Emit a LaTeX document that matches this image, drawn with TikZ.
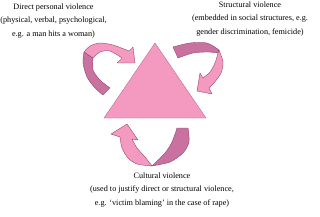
\documentclass[tikz,border=0pt]{standalone}
\usepackage{fontspec}
\setmainfont{Liberation Serif}
\definecolor{lightpink}{HTML}{F49AC1}
\definecolor{darkpink}{HTML}{C9729F}
\definecolor{edgecol}{HTML}{8E3B67}
\definecolor{tricol}{HTML}{C06090}
\begin{document}
\begin{tikzpicture}[x=1pt,y=-1pt,
  lbl/.style={align=center,font=\fontsize{8.2}{13.5}\selectfont,inner sep=0pt},
  lightpart/.style={fill=lightpink,draw=edgecol,line width=0.35pt,line join=round},
  darkpart/.style={fill=darkpink,draw=edgecol,line width=0.35pt,line join=round},
  tri/.style={fill=lightpink,draw=tricol,line width=0.35pt}]
\useasboundingbox (0,0) rectangle (320,216);
% triangle
\coordinate (apex) at (155,43);
\coordinate (bl) at (104,118);
\coordinate (br) at (206,118);
\path[tri] (apex) -- (br) -- (bl) -- cycle;
% left arrow
\path[darkpart] plot[smooth] coordinates {(84,52) (83,63) (87,77) (95,88) (103,95)}
  -- plot[smooth] coordinates {(110,88) (100,80) (93,70) (93,58)} -- cycle;
\path[lightpart] plot[smooth] coordinates {(84,52) (90,46) (100,43) (113,45) (129,51)}
  -- (133,47) -- (135,63) -- (117,63) -- (122,58)
  -- plot[smooth] coordinates {(122,58) (110,51) (100,52) (93,58)} -- cycle;
% right arrow
\path[darkpart] plot[smooth] coordinates {(173,47) (190,43) (207,43) (219,50)}
  -- plot[smooth] coordinates {(218,53) (208,52) (193,53) (178,58)} -- cycle;
\path[lightpart] plot[smooth] coordinates {(219,50) (223,62) (221,73) (214,83) (209,88)}
  -- (212,94) -- (197,91) -- (200,73) -- (203,78)
  -- plot[smooth] coordinates {(203,78) (210,72) (215,63) (218,53)} -- cycle;
% bottom arrow
\path[darkpart] (177,128) -- plot[smooth] coordinates {(188,128) (189,142) (183,153) (170,162) (152,166)}
  -- plot[smooth] coordinates {(152,166) (165,153) (172,142) (177,128)} -- cycle;
\path[lightpart] plot[smooth] coordinates {(120,137) (122,148) (128,158) (137,164) (152,166)}
  -- plot[smooth] coordinates {(152,166) (145,157) (137,148) (132,139)}
  -- (138,140) -- (127,124) -- (111,134) -- cycle;
% labels
\node[lbl] (direct) at (53.5,21) {Direct personal violence\\(physical, verbal, psychological,\\e.g. a man hits a woman)};
\node[lbl] (structural) at (250,19) {Structural violence\\(embedded in social structures, e.g.\\gender discrimination, femicide)};
\node[lbl] (cultural) at (162,190) {Cultural violence\\(used to justify direct or structural violence,\\e.g. `victim blaming' in the case of rape)};
\end{tikzpicture}
\end{document}
